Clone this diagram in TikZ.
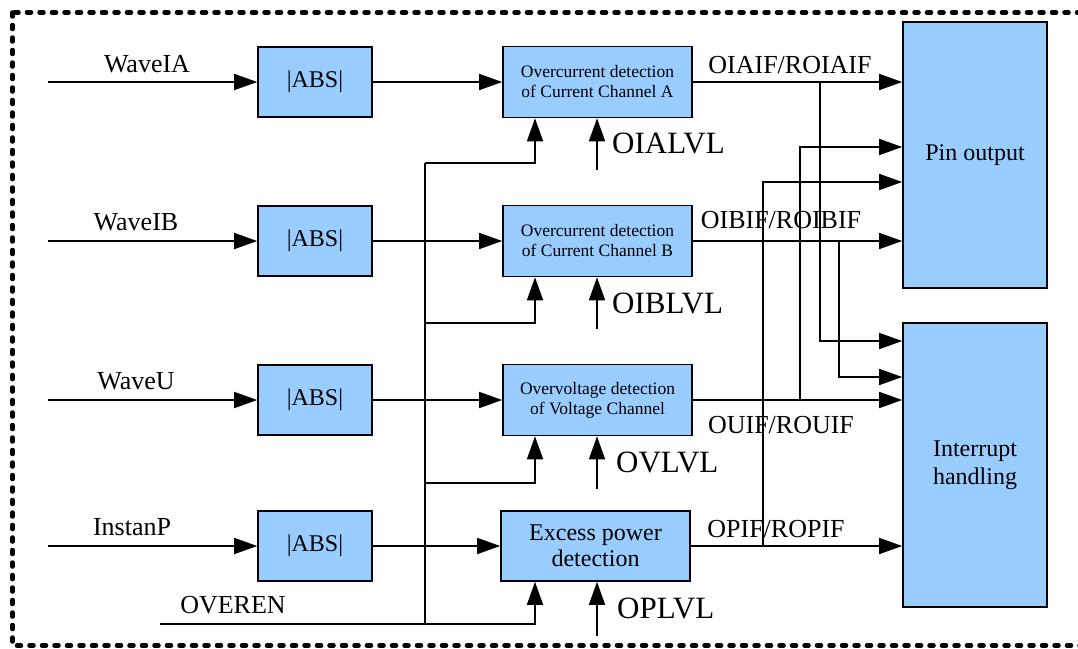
\documentclass[tikz,border=0pt]{standalone}
\usepackage{fontspec}
\setmainfont{Liberation Serif}
\usetikzlibrary{arrows.meta}
\definecolor{boxblue}{RGB}{153,204,255}
\tikzset{
  blk/.style={draw=black, line width=1.6pt, fill=boxblue, inner sep=0pt, align=center, font=\fontsize{24}{26}\selectfont},
  small/.style={font=\fontsize{17.5}{20}\selectfont},
  wire/.style={line width=1.6pt},
  arr/.style={wire, -{Triangle[length=23pt,width=16pt]}},
  sig/.style={font=\fontsize{26}{28}\selectfont, inner sep=0pt},
  lvl/.style={font=\fontsize{31}{33}\selectfont, inner sep=0pt, anchor=west},
}
\begin{document}
\begin{tikzpicture}[x=1pt,y=-1pt]
\useasboundingbox (0,0) rectangle (1078,648);
\draw[line width=4.5pt, line cap=round, dash pattern=on 4pt off 8.5pt] (12.5,12.5) rectangle (1095,645.5);

% ABS blocks
\node[blk, minimum width=114pt, minimum height=70pt] (abs1) at (315,82) {|ABS|};
\node[blk, minimum width=114pt, minimum height=70pt] (abs2) at (315,241) {|ABS|};
\node[blk, minimum width=114pt, minimum height=70pt] (abs3) at (315,400) {|ABS|};
\node[blk, minimum width=114pt, minimum height=70pt] (abs4) at (315,546) {|ABS|};

% detection blocks
\node[blk, small, minimum width=189pt, minimum height=71pt] (detA) at (597.5,82) {Overcurrent detection\\of Current Channel A};
\node[blk, small, minimum width=189pt, minimum height=71pt] (detB) at (597.5,241) {Overcurrent detection\\of Current Channel B};
\node[blk, small, minimum width=189pt, minimum height=71pt] (detU) at (597.5,400) {Overvoltage detection\\of Voltage Channel};
\node[blk, minimum width=189pt, minimum height=70pt] (detP) at (595.5,546) {Excess power\\detection};

% output blocks
\node[blk, minimum width=144pt, minimum height=266pt] (pin) at (975,155) {Pin output};
\node[blk, font=\fontsize{24}{28}\selectfont, minimum width=144pt, minimum height=284pt] (int) at (975,465) {Interrupt\\handling};

% inputs
\coordinate (i1) at (48,82);
\coordinate (i2) at (48,241);
\coordinate (i3) at (48,400);
\coordinate (i4) at (48,546);
\coordinate (i5) at (160,624);
\draw[arr] (i1) -- (abs1);
\draw[arr] (i2) -- (abs2);
\draw[arr] (i3) -- (abs3);
\draw[arr] (i4) -- (abs4);
\node[sig] (lWA) at (147,64) {WaveIA};
\node[sig] (lWB) at (136,222) {WaveIB};
\node[sig] (lWU) at (136,381) {WaveU};
\node[sig] (lIP) at (132,527) {InstanP};
\node[sig] (lOE) at (233,605) {OVEREN};

% ABS -> detection
\draw[arr] (abs1) -- (detA);
\draw[arr] (abs2) -- (detB);
\draw[arr] (abs3) -- (detU);
\draw[arr] (abs4) -- (detP.west |- abs4.east);

% enable bus
\coordinate (b1) at (425,163);
\coordinate (b2) at (425,323);
\coordinate (b3) at (425,483);
\coordinate (b4) at (425,624);
\coordinate (xe) at (535,0);
\draw[wire] (b1) -- (b4);
\draw[wire] (i5) -- (b4);
\draw[arr] (b1) -| (detA.south -| xe);
\draw[arr] (b2) -| (detB.south -| xe);
\draw[arr] (b3) -| (detU.south -| xe);
\draw[arr] (b4) -| (detP.south -| xe);

% level thresholds
\coordinate (vA) at (597,170);
\coordinate (vB) at (597,329);
\coordinate (vU) at (597,489);
\coordinate (vP) at (597,636);
\draw[arr] (vA) -- (vA |- detA.south);
\draw[arr] (vB) -- (vB |- detB.south);
\draw[arr] (vU) -- (vU |- detU.south);
\draw[arr] (vP) -- (vP |- detP.south);
\node[lvl] (lA) at (612,143) {OIALVL};
\node[lvl] (lB) at (612,303) {OIBLVL};
\node[lvl] (lU) at (616,462) {OVLVL};
\node[lvl] (lP) at (617,608) {OPLVL};

% outputs
\draw[arr] (detA.east) -- (detA.east -| pin.west);
\draw[arr] (detB.east) -- (detB.east -| pin.west);
\draw[arr] (detU.east) -- (detU.east -| int.west);
\draw[arr] (detP.east) -- (detP.east -| int.west);
\node[sig] (oA) at (790,65) {OIAIF/ROIAIF};
\node[sig] (oB) at (781,220) {OIBIF/ROIBIF};
\node[sig] (oU) at (781,425) {OUIF/ROUIF};
\node[sig] (oP) at (776,529) {OPIF/ROPIF};

% branches
\coordinate (jA) at (820,82);
\coordinate (jB) at (839,241);
\coordinate (jU) at (800,400);
\coordinate (jP) at (763,546);
\coordinate (tA) at (0,341);
\coordinate (tB) at (0,377);
\coordinate (tU) at (0,147);
\coordinate (tP) at (0,182);
\draw[arr] (jA) |- (int.west |- tA);
\draw[arr] (jB) |- (int.west |- tB);
\draw[arr] (jU) |- (pin.west |- tU);
\draw[arr] (jP) |- (pin.west |- tP);
\end{tikzpicture}
\end{document}
